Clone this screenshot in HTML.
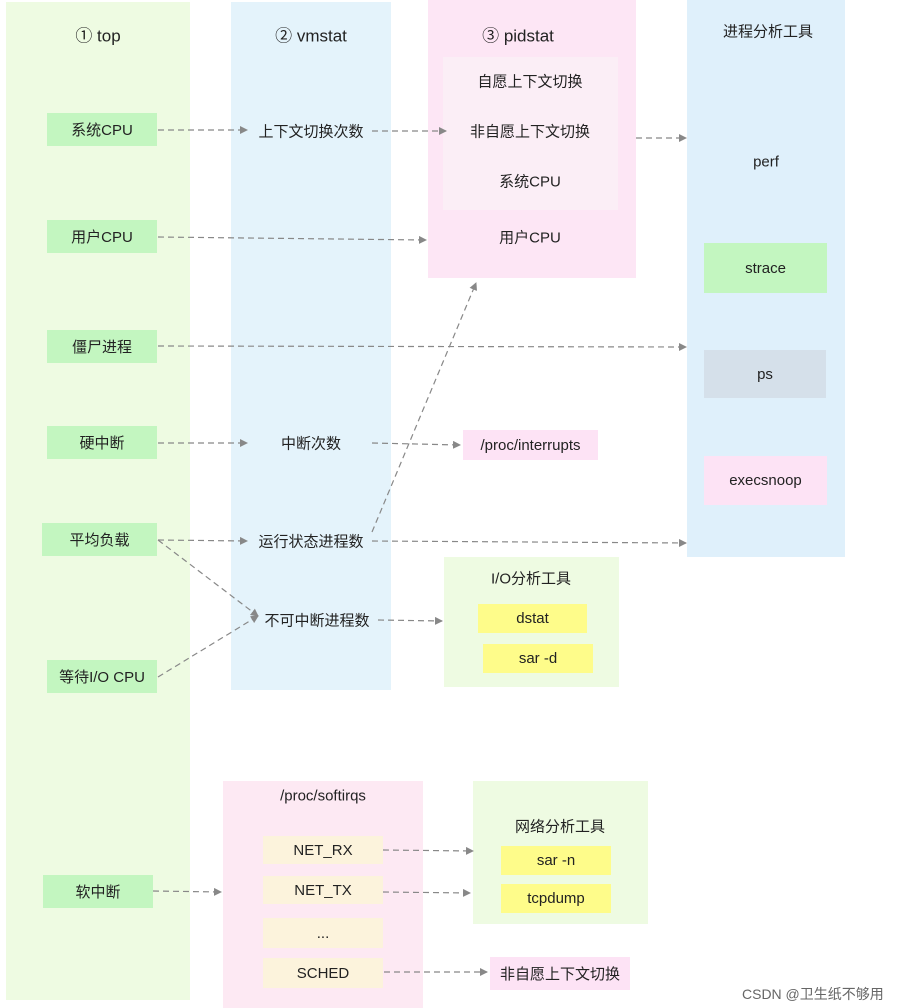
<!DOCTYPE html>
<html><head><meta charset="utf-8"><style>
body{margin:0;width:918px;height:1008px;background:#fff;position:relative;overflow:hidden;font-family:"Liberation Sans","Noto Sans CJK SC",sans-serif;color:#222}
div{position:absolute;box-sizing:border-box}
.b{display:flex;align-items:center;justify-content:center;font-size:15px}
.t{font-size:15px;text-align:center;white-space:nowrap;transform:translate(-50%,-50%)}
.g{background:#c3f6c0}.y{background:#fefc8a}.p{background:#fde3f5}
</style></head><body>
<div style="left:6px;top:2px;width:184px;height:998px;background:#eefbe2"></div>
<div style="left:231px;top:2px;width:160px;height:688px;background:#e4f3fb"></div>
<div style="left:428px;top:0;width:208px;height:278px;background:#fde6f5"></div>
<div style="left:443px;top:57px;width:175px;height:153px;background:#fbeef6"></div>
<div style="left:687px;top:0;width:158px;height:557px;background:#dff0fb"></div>
<div style="left:444px;top:557px;width:175px;height:130px;background:#eefbe2"></div>
<div style="left:223px;top:781px;width:200px;height:227px;background:#fde9f3"></div>
<div style="left:473px;top:781px;width:175px;height:143px;background:#eefbe2"></div>

<div class="t" style="left:98px;top:34px;font-size:17px">① top</div>
<div class="t" style="left:311px;top:34px;font-size:17px">② vmstat</div>
<div class="t" style="left:518px;top:34px;font-size:17px">③ pidstat</div>
<div class="t" style="left:768px;top:31px">进程分析工具</div>

<div class="b g" style="left:47px;top:113px;width:110px;height:33px">系统CPU</div>
<div class="b g" style="left:47px;top:220px;width:110px;height:33px">用户CPU</div>
<div class="b g" style="left:47px;top:330px;width:110px;height:33px">僵尸进程</div>
<div class="b g" style="left:47px;top:426px;width:110px;height:33px">硬中断</div>
<div class="b g" style="left:42px;top:523px;width:115px;height:33px">平均负载</div>
<div class="b g" style="left:47px;top:660px;width:110px;height:33px">等待I/O CPU</div>
<div class="b g" style="left:43px;top:875px;width:110px;height:33px">软中断</div>

<div class="t" style="left:311px;top:131px">上下文切换次数</div>
<div class="t" style="left:311px;top:443px">中断次数</div>
<div class="t" style="left:311px;top:541px">运行状态进程数</div>
<div class="t" style="left:317px;top:620px">不可中断进程数</div>

<div class="t" style="left:530px;top:81px">自愿上下文切换</div>
<div class="t" style="left:530px;top:131px">非自愿上下文切换</div>
<div class="t" style="left:530px;top:181px">系统CPU</div>
<div class="t" style="left:530px;top:237px">用户CPU</div>

<div class="t" style="left:766px;top:162px">perf</div>
<div class="b g" style="left:704px;top:243px;width:123px;height:50px">strace</div>
<div class="b" style="left:704px;top:350px;width:122px;height:48px;background:#d5e0ea">ps</div>
<div class="b p" style="left:704px;top:456px;width:123px;height:49px">execsnoop</div>

<div class="b p" style="left:463px;top:430px;width:135px;height:30px">/proc/interrupts</div>

<div class="t" style="left:531px;top:578px">I/O分析工具</div>
<div class="b y" style="left:478px;top:604px;width:109px;height:29px">dstat</div>
<div class="b y" style="left:483px;top:644px;width:110px;height:29px">sar -d</div>

<div class="t" style="left:323px;top:796px">/proc/softirqs</div>
<div class="b" style="left:263px;top:836px;width:120px;height:28px;background:#fcf3dc">NET_RX</div>
<div class="b" style="left:263px;top:876px;width:120px;height:28px;background:#fcf3dc">NET_TX</div>
<div class="b" style="left:263px;top:918px;width:120px;height:30px;background:#fcf3dc">...</div>
<div class="b" style="left:263px;top:958px;width:120px;height:30px;background:#fcf3dc">SCHED</div>

<div class="t" style="left:560px;top:826px">网络分析工具</div>
<div class="b y" style="left:501px;top:846px;width:110px;height:29px">sar -n</div>
<div class="b y" style="left:501px;top:884px;width:110px;height:29px">tcpdump</div>
<div class="b p" style="left:490px;top:957px;width:140px;height:33px">非自愿上下文切换</div>

<div style="left:742px;top:984px;font-size:14px;color:#666;white-space:nowrap">CSDN @卫生纸不够用</div>

<svg width="918" height="1008" style="position:absolute;left:0;top:0">
<defs><marker id="a" markerWidth="8" markerHeight="8" refX="7" refY="4" orient="auto" markerUnits="userSpaceOnUse"><path d="M0,0L8,4L0,8z" fill="#888"/></marker></defs>
<g stroke="#888" stroke-width="1.2" stroke-dasharray="6,4" fill="none" marker-end="url(#a)">
<line x1="158" y1="130" x2="247" y2="130"/>
<line x1="372" y1="131" x2="446" y2="131"/>
<line x1="636" y1="138" x2="686" y2="138"/>
<line x1="158" y1="237" x2="426" y2="240"/>
<line x1="158" y1="346" x2="686" y2="347"/>
<line x1="158" y1="443" x2="247" y2="443"/>
<line x1="372" y1="443" x2="460" y2="445"/>
<line x1="158" y1="540" x2="247" y2="541"/>
<line x1="372" y1="541" x2="686" y2="543"/>
<line x1="372" y1="532" x2="476" y2="283"/>
<line x1="158" y1="540" x2="258" y2="616"/>
<line x1="158" y1="677" x2="258" y2="616"/>
<line x1="378" y1="620" x2="442" y2="621"/>
<line x1="383" y1="850" x2="473" y2="851"/>
<line x1="383" y1="892" x2="470" y2="893"/>
<line x1="153" y1="891" x2="221" y2="892"/>
<line x1="384" y1="972" x2="487" y2="972"/>
</g></svg>
</body></html>
